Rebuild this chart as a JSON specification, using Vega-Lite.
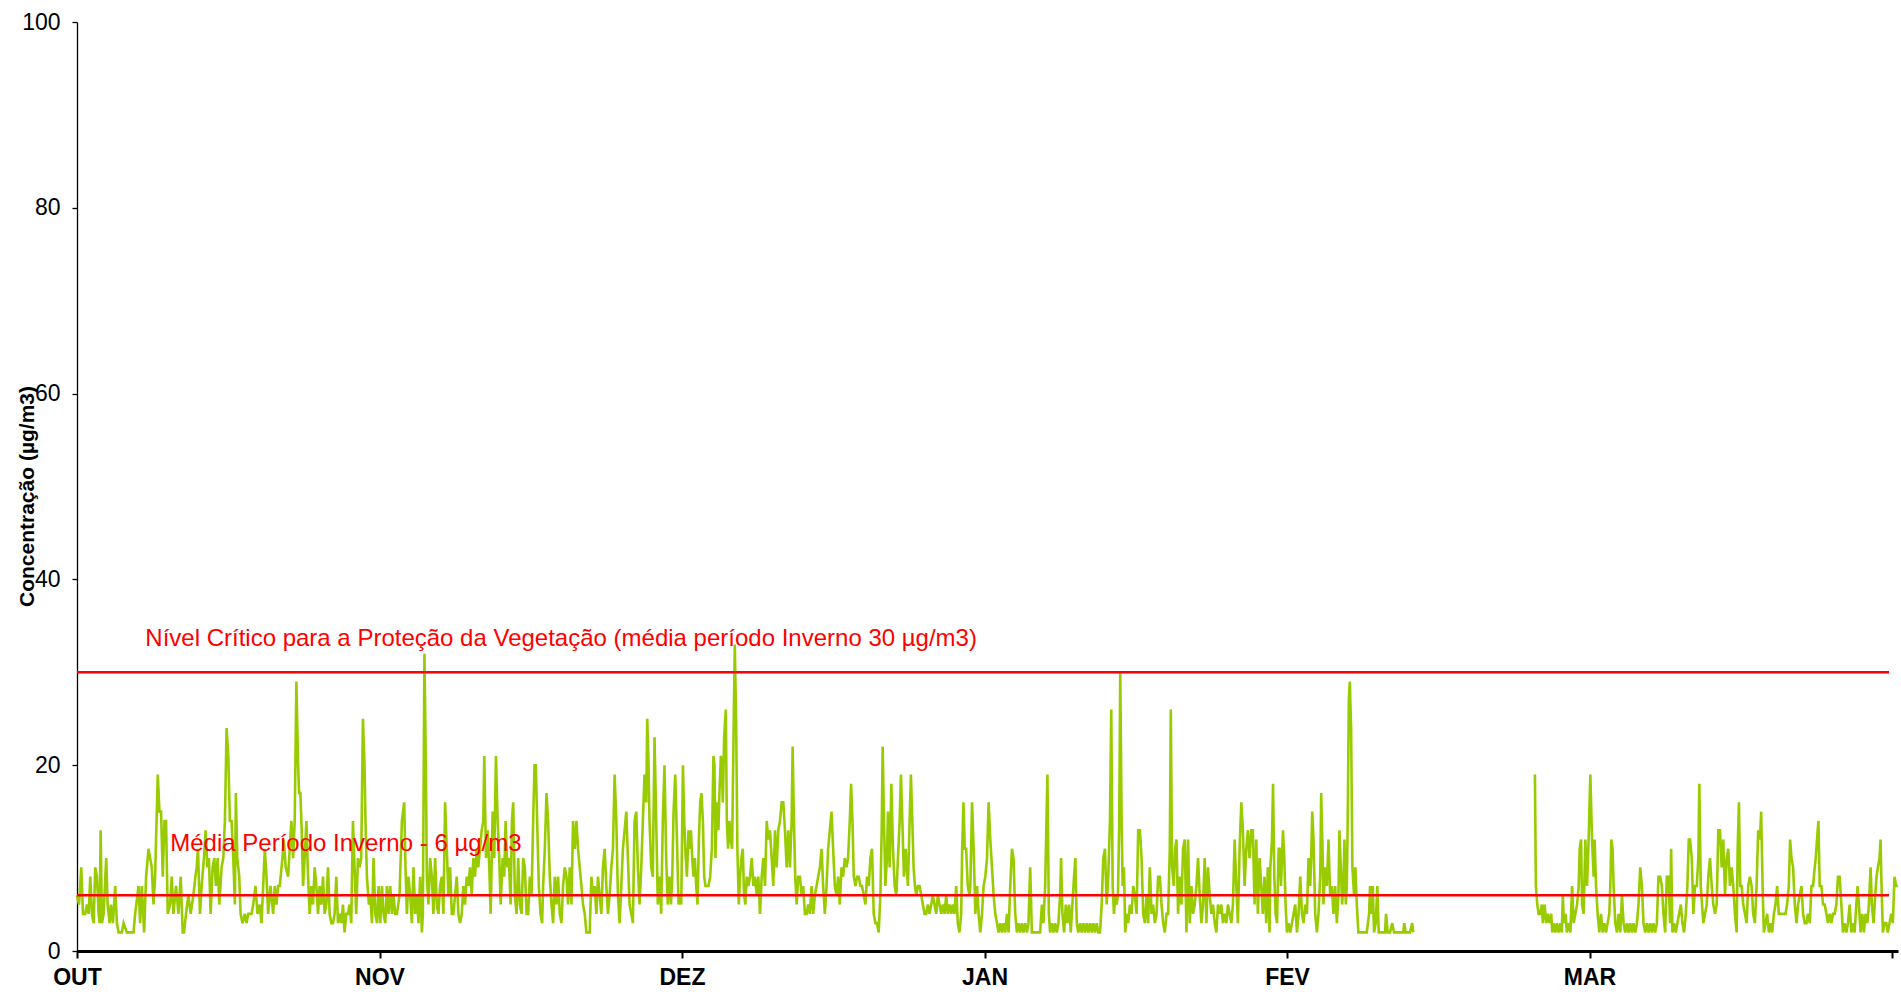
{
"$schema": "https://vega.github.io/schema/vega-lite/v6.json",
"width": 1821, "height": 929,
"autosize": {"type": "none"},
"padding": {"left": 77, "top": 22, "right": 3, "bottom": 41},
"background": "white",
"config": {"view": {"stroke": null}, "axis": {"grid": false}},
"datasets": {
"series": [
{"d":0,"v":6},{"d":0.2,"v":5},{"d":0.43,"v":9},{"d":0.6,"v":4},{"d":0.83,"v":4},{"d":1,"v":5},{"d":1.17,"v":4},{"d":1.33,"v":8},{"d":1.5,"v":4},{"d":1.67,"v":3},{"d":1.83,"v":9},{"d":2,"v":8},{"d":2.17,"v":4},{"d":2.27,"v":3},{"d":2.37,"v":13},{"d":2.5,"v":3},{"d":2.67,"v":4},{"d":2.93,"v":10},{"d":3.07,"v":5},{"d":3.27,"v":3},{"d":3.4,"v":5},{"d":3.6,"v":3},{"d":3.83,"v":7},{"d":4,"v":3},{"d":4.17,"v":2},{"d":4.5,"v":2},{"d":4.67,"v":3},{"d":5,"v":2},{"d":5.33,"v":2},{"d":5.67,"v":2},{"d":5.83,"v":4},{"d":6.17,"v":7},{"d":6.33,"v":3},{"d":6.5,"v":7},{"d":6.73,"v":2},{"d":6.93,"v":8},{"d":7.17,"v":11},{"d":7.33,"v":10},{"d":7.5,"v":9},{"d":7.67,"v":5},{"d":7.83,"v":8},{"d":8.1,"v":19},{"d":8.27,"v":15},{"d":8.43,"v":15},{"d":8.6,"v":8},{"d":8.77,"v":14},{"d":8.93,"v":14},{"d":9.1,"v":4},{"d":9.33,"v":5},{"d":9.5,"v":8},{"d":9.67,"v":4},{"d":9.93,"v":7},{"d":10.17,"v":4},{"d":10.4,"v":8},{"d":10.6,"v":2},{"d":10.73,"v":2},{"d":10.93,"v":4},{"d":11.17,"v":6},{"d":11.4,"v":4},{"d":11.67,"v":6},{"d":11.87,"v":8},{"d":12,"v":9},{"d":12.13,"v":11},{"d":12.33,"v":4},{"d":12.5,"v":7},{"d":12.73,"v":10},{"d":12.9,"v":13},{"d":13.07,"v":9},{"d":13.23,"v":10},{"d":13.4,"v":4},{"d":13.6,"v":9},{"d":13.77,"v":10},{"d":13.93,"v":7},{"d":14.1,"v":10},{"d":14.27,"v":5},{"d":14.5,"v":9},{"d":14.67,"v":10},{"d":14.83,"v":14},{"d":15,"v":24},{"d":15.17,"v":21},{"d":15.33,"v":14},{"d":15.5,"v":14},{"d":15.67,"v":10},{"d":15.83,"v":5},{"d":15.93,"v":17},{"d":16.07,"v":10},{"d":16.27,"v":8},{"d":16.4,"v":4},{"d":16.6,"v":3},{"d":16.83,"v":4},{"d":17,"v":3},{"d":17.17,"v":4},{"d":17.5,"v":4},{"d":17.67,"v":5},{"d":17.9,"v":7},{"d":18.1,"v":4},{"d":18.33,"v":5},{"d":18.5,"v":3},{"d":18.67,"v":7},{"d":18.83,"v":11},{"d":19,"v":8},{"d":19.17,"v":4},{"d":19.4,"v":7},{"d":19.67,"v":4},{"d":19.83,"v":7},{"d":20,"v":5},{"d":20.17,"v":7},{"d":20.33,"v":7},{"d":20.6,"v":10},{"d":20.73,"v":12},{"d":20.93,"v":9},{"d":21.17,"v":8},{"d":21.33,"v":11},{"d":21.5,"v":14},{"d":21.67,"v":10},{"d":21.83,"v":14},{"d":22,"v":29},{"d":22.17,"v":20},{"d":22.27,"v":17},{"d":22.4,"v":17},{"d":22.53,"v":13},{"d":22.67,"v":7},{"d":22.83,"v":10},{"d":23,"v":14},{"d":23.17,"v":8},{"d":23.33,"v":4},{"d":23.5,"v":7},{"d":23.67,"v":5},{"d":23.83,"v":9},{"d":24,"v":7},{"d":24.17,"v":4},{"d":24.33,"v":7},{"d":24.5,"v":5},{"d":24.67,"v":8},{"d":24.83,"v":4},{"d":25,"v":5},{"d":25.17,"v":9},{"d":25.33,"v":4},{"d":25.5,"v":3},{"d":25.67,"v":3},{"d":25.83,"v":4},{"d":26,"v":8},{"d":26.17,"v":3},{"d":26.33,"v":4},{"d":26.5,"v":3},{"d":26.67,"v":5},{"d":26.83,"v":2},{"d":27,"v":4},{"d":27.17,"v":4},{"d":27.33,"v":5},{"d":27.5,"v":3},{"d":27.67,"v":14},{"d":27.83,"v":9},{"d":28,"v":4},{"d":28.17,"v":10},{"d":28.33,"v":9},{"d":28.5,"v":10},{"d":28.67,"v":25},{"d":28.83,"v":20},{"d":28.93,"v":14},{"d":29.07,"v":8},{"d":29.27,"v":5},
{"d":29.41,"v":6},{"d":29.58,"v":3},{"d":29.74,"v":10},{"d":29.91,"v":4},{"d":30.08,"v":3},{"d":30.24,"v":7},{"d":30.41,"v":3},{"d":30.58,"v":7},{"d":30.74,"v":4},{"d":30.91,"v":3},{"d":31.08,"v":7},{"d":31.24,"v":4},{"d":31.41,"v":7},{"d":31.58,"v":4},{"d":31.74,"v":6},{"d":31.91,"v":4},{"d":32.08,"v":4},{"d":32.34,"v":6},{"d":32.58,"v":14},{"d":32.81,"v":16},{"d":32.94,"v":9},{"d":33.08,"v":4},{"d":33.24,"v":8},{"d":33.41,"v":6},{"d":33.58,"v":3},{"d":33.74,"v":9},{"d":33.91,"v":4},{"d":34.08,"v":6},{"d":34.24,"v":3},{"d":34.41,"v":8},{"d":34.58,"v":2},{"d":34.68,"v":4},{"d":34.84,"v":32},{"d":34.98,"v":20},{"d":35.08,"v":8},{"d":35.24,"v":5},{"d":35.41,"v":10},{"d":35.58,"v":8},{"d":35.74,"v":4},{"d":35.91,"v":10},{"d":36.08,"v":5},{"d":36.24,"v":4},{"d":36.41,"v":7},{"d":36.58,"v":8},{"d":36.74,"v":4},{"d":36.91,"v":16},{"d":37.08,"v":11},{"d":37.24,"v":6},{"d":37.41,"v":9},{"d":37.58,"v":4},{"d":37.74,"v":4},{"d":37.91,"v":6},{"d":38.08,"v":8},{"d":38.24,"v":4},{"d":38.41,"v":3},{"d":38.58,"v":4},{"d":38.74,"v":7},{"d":38.91,"v":5},{"d":39.08,"v":8},{"d":39.24,"v":7},{"d":39.41,"v":9},{"d":39.58,"v":6},{"d":39.74,"v":10},{"d":39.91,"v":8},{"d":40.08,"v":11},{"d":40.24,"v":9},{"d":40.41,"v":11},{"d":40.58,"v":13},{"d":40.74,"v":14},{"d":40.84,"v":21},{"d":41.01,"v":10},{"d":41.18,"v":13},{"d":41.34,"v":9},{"d":41.48,"v":4},{"d":41.68,"v":15},{"d":41.84,"v":10},{"d":42.01,"v":21},{"d":42.18,"v":14},{"d":42.34,"v":10},{"d":42.48,"v":5},{"d":42.68,"v":10},{"d":42.84,"v":8},{"d":42.98,"v":14},{"d":43.14,"v":9},{"d":43.31,"v":10},{"d":43.48,"v":5},{"d":43.61,"v":14},{"d":43.74,"v":16},{"d":43.91,"v":6},{"d":44.08,"v":4},{"d":44.24,"v":10},{"d":44.41,"v":5},{"d":44.58,"v":4},{"d":44.74,"v":10},{"d":44.91,"v":9},{"d":45.08,"v":4},{"d":45.24,"v":4},{"d":45.41,"v":8},{"d":45.58,"v":6},{"d":45.74,"v":14},{"d":45.88,"v":20},{"d":46.01,"v":20},{"d":46.14,"v":14},{"d":46.31,"v":7},{"d":46.48,"v":4},{"d":46.64,"v":3},{"d":46.74,"v":7},{"d":46.91,"v":11},{"d":47.08,"v":17},{"d":47.24,"v":14},{"d":47.41,"v":8},{"d":47.58,"v":5},{"d":47.74,"v":3},{"d":47.91,"v":8},{"d":48.08,"v":5},{"d":48.24,"v":8},{"d":48.41,"v":4},{"d":48.58,"v":3},{"d":48.74,"v":7},{"d":48.91,"v":9},{"d":49.08,"v":8},{"d":49.24,"v":5},{"d":49.41,"v":9},{"d":49.58,"v":5},{"d":49.74,"v":14},{"d":49.91,"v":11},{"d":50.08,"v":14},{"d":50.24,"v":11},{"d":50.41,"v":9},{"d":50.58,"v":7},{"d":50.74,"v":5},{"d":50.91,"v":4},{"d":51.08,"v":2},{"d":51.24,"v":2},{"d":51.41,"v":2},{"d":51.58,"v":8},{"d":51.74,"v":6},{"d":51.91,"v":7},{"d":52.08,"v":4},{"d":52.24,"v":8},{"d":52.41,"v":6},{"d":52.58,"v":4},{"d":52.74,"v":9},{"d":52.91,"v":11},{"d":53.08,"v":7},{"d":53.24,"v":4},{"d":53.41,"v":6},{"d":53.58,"v":9},{"d":53.74,"v":11},{"d":53.91,"v":19},{"d":54.08,"v":14},{"d":54.24,"v":6},{"d":54.41,"v":3},{"d":54.58,"v":7},{"d":54.74,"v":11},{"d":54.91,"v":13},{"d":55.08,"v":15},{"d":55.24,"v":10},{"d":55.41,"v":5},{"d":55.58,"v":4},{"d":55.74,"v":3},{"d":55.91,"v":14},{"d":56.08,"v":15},{"d":56.24,"v":9},{"d":56.41,"v":5},{"d":56.58,"v":9},{"d":56.74,"v":14},{"d":56.91,"v":19},{"d":57.08,"v":16},{"d":57.18,"v":25},{"d":57.31,"v":20},{"d":57.41,"v":14},{"d":57.58,"v":9},{"d":57.74,"v":8},{"d":57.91,"v":23},{"d":58.08,"v":14},{"d":58.24,"v":5},{"d":58.41,"v":8},{"d":58.58,"v":4},{"d":58.74,"v":14},{"d":58.91,"v":20},{"d":59.08,"v":10},{"d":59.24,"v":5},{"d":59.41,"v":8},
{"d":59.56,"v":5},{"d":59.69,"v":8},{"d":59.82,"v":15},{"d":59.99,"v":19},{"d":60.16,"v":12},{"d":60.32,"v":5},{"d":60.49,"v":6},{"d":60.59,"v":5},{"d":60.76,"v":20},{"d":60.89,"v":14},{"d":60.99,"v":11},{"d":61.16,"v":8},{"d":61.32,"v":13},{"d":61.42,"v":11},{"d":61.56,"v":13},{"d":61.69,"v":10},{"d":61.82,"v":8},{"d":61.96,"v":10},{"d":62.09,"v":7},{"d":62.22,"v":5},{"d":62.36,"v":12},{"d":62.49,"v":16},{"d":62.62,"v":17},{"d":62.76,"v":14},{"d":62.89,"v":8},{"d":63.02,"v":7},{"d":63.16,"v":7},{"d":63.32,"v":7},{"d":63.49,"v":8},{"d":63.66,"v":11},{"d":63.82,"v":21},{"d":63.92,"v":20},{"d":64.02,"v":10},{"d":64.16,"v":16},{"d":64.32,"v":13},{"d":64.42,"v":17},{"d":64.56,"v":21},{"d":64.66,"v":20},{"d":64.76,"v":16},{"d":64.89,"v":23},{"d":65.06,"v":26},{"d":65.16,"v":14},{"d":65.29,"v":11},{"d":65.42,"v":14},{"d":65.56,"v":12},{"d":65.69,"v":11},{"d":65.82,"v":22},{"d":65.96,"v":33},{"d":66.09,"v":25},{"d":66.22,"v":11},{"d":66.36,"v":5},{"d":66.49,"v":8},{"d":66.62,"v":10},{"d":66.76,"v":11},{"d":66.89,"v":6},{"d":67.02,"v":5},{"d":67.16,"v":8},{"d":67.32,"v":7},{"d":67.49,"v":8},{"d":67.66,"v":10},{"d":67.82,"v":7},{"d":67.99,"v":8},{"d":68.16,"v":6},{"d":68.32,"v":8},{"d":68.49,"v":4},{"d":68.66,"v":8},{"d":68.82,"v":10},{"d":68.99,"v":7},{"d":69.16,"v":14},{"d":69.32,"v":12},{"d":69.49,"v":13},{"d":69.66,"v":10},{"d":69.82,"v":7},{"d":69.99,"v":13},{"d":70.16,"v":9},{"d":70.32,"v":13},{"d":70.49,"v":14},{"d":70.66,"v":16},{"d":70.82,"v":16},{"d":70.99,"v":13},{"d":71.16,"v":9},{"d":71.32,"v":13},{"d":71.49,"v":9},{"d":71.66,"v":14},{"d":71.76,"v":22},{"d":71.89,"v":14},{"d":72.02,"v":8},{"d":72.16,"v":5},{"d":72.32,"v":8},{"d":72.49,"v":8},{"d":72.66,"v":6},{"d":72.82,"v":7},{"d":72.99,"v":4},{"d":73.16,"v":4},{"d":73.32,"v":5},{"d":73.49,"v":4},{"d":73.66,"v":7},{"d":73.82,"v":4},{"d":73.99,"v":6},{"d":74.16,"v":7},{"d":74.32,"v":8},{"d":74.49,"v":9},{"d":74.66,"v":11},{"d":74.82,"v":7},{"d":74.99,"v":4},{"d":75.16,"v":7},{"d":75.32,"v":11},{"d":75.49,"v":13},{"d":75.66,"v":15},{"d":75.82,"v":11},{"d":75.99,"v":7},{"d":76.16,"v":6},{"d":76.32,"v":8},{"d":76.49,"v":5},{"d":76.66,"v":9},{"d":76.82,"v":8},{"d":76.99,"v":10},{"d":77.16,"v":9},{"d":77.32,"v":10},{"d":77.49,"v":14},{"d":77.62,"v":18},{"d":77.76,"v":14},{"d":77.89,"v":8},{"d":78.06,"v":7},{"d":78.22,"v":8},{"d":78.39,"v":8},{"d":78.56,"v":7},{"d":78.72,"v":7},{"d":78.89,"v":6},{"d":79.06,"v":5},{"d":79.22,"v":8},{"d":79.39,"v":7},{"d":79.56,"v":10},{"d":79.72,"v":11},{"d":79.89,"v":4},{"d":80.06,"v":3},{"d":80.22,"v":3},{"d":80.39,"v":2},{"d":80.56,"v":6},{"d":80.69,"v":13},{"d":80.79,"v":22},{"d":80.92,"v":14},{"d":81.06,"v":7},{"d":81.22,"v":10},{"d":81.32,"v":15},{"d":81.49,"v":9},{"d":81.66,"v":18},{"d":81.82,"v":11},{"d":81.99,"v":7},{"d":82.16,"v":6},{"d":82.32,"v":10},{"d":82.49,"v":14},{"d":82.62,"v":19},{"d":82.76,"v":14},{"d":82.92,"v":8},{"d":83.09,"v":11},{"d":83.32,"v":7},{"d":83.49,"v":14},{"d":83.62,"v":19},{"d":83.76,"v":14},{"d":83.89,"v":9},{"d":84.02,"v":7},{"d":84.16,"v":6},{"d":84.32,"v":7},{"d":84.49,"v":7},{"d":84.66,"v":6},{"d":84.82,"v":5},{"d":84.99,"v":4},{"d":85.16,"v":4},{"d":85.32,"v":5},{"d":85.49,"v":4},{"d":85.66,"v":5},{"d":85.82,"v":6},{"d":85.99,"v":5},{"d":86.16,"v":4},{"d":86.32,"v":6},{"d":86.49,"v":5},{"d":86.66,"v":4},{"d":86.82,"v":5},{"d":86.99,"v":4},{"d":87.16,"v":6},{"d":87.32,"v":4},{"d":87.49,"v":5},{"d":87.66,"v":4},{"d":87.82,"v":5},{"d":87.99,"v":4},{"d":88.16,"v":7},{"d":88.32,"v":3},{"d":88.49,"v":2},{"d":88.66,"v":4},{"d":88.76,"v":11},{"d":88.89,"v":16},{"d":89.02,"v":11},{"d":89.16,"v":11},{"d":89.32,"v":7},{"d":89.49,"v":6},
{"d":89.58,"v":7},{"d":89.75,"v":16},{"d":89.91,"v":11},{"d":90.08,"v":4},{"d":90.25,"v":7},{"d":90.41,"v":4},{"d":90.58,"v":2},{"d":90.75,"v":4},{"d":90.91,"v":7},{"d":91.08,"v":8},{"d":91.25,"v":10},{"d":91.41,"v":16},{"d":91.58,"v":12},{"d":91.75,"v":9},{"d":91.91,"v":6},{"d":92.08,"v":4},{"d":92.25,"v":3},{"d":92.41,"v":2},{"d":92.58,"v":3},{"d":92.75,"v":2},{"d":92.91,"v":3},{"d":93.08,"v":2},{"d":93.25,"v":4},{"d":93.41,"v":2},{"d":93.58,"v":7},{"d":93.75,"v":11},{"d":93.91,"v":10},{"d":94.08,"v":4},{"d":94.25,"v":2},{"d":94.41,"v":3},{"d":94.58,"v":2},{"d":94.75,"v":3},{"d":94.91,"v":2},{"d":95.08,"v":3},{"d":95.25,"v":2},{"d":95.41,"v":3},{"d":95.58,"v":9},{"d":95.75,"v":2},{"d":95.91,"v":2},{"d":96.25,"v":2},{"d":96.58,"v":2},{"d":96.75,"v":5},{"d":96.91,"v":3},{"d":97.08,"v":7},{"d":97.31,"v":19},{"d":97.45,"v":4},{"d":97.58,"v":2},{"d":97.75,"v":3},{"d":97.91,"v":2},{"d":98.08,"v":3},{"d":98.25,"v":2},{"d":98.41,"v":3},{"d":98.58,"v":6},{"d":98.68,"v":10},{"d":98.81,"v":4},{"d":98.98,"v":2},{"d":99.15,"v":5},{"d":99.31,"v":3},{"d":99.48,"v":5},{"d":99.65,"v":2},{"d":99.81,"v":5},{"d":99.98,"v":8},{"d":100.11,"v":10},{"d":100.25,"v":3},{"d":100.41,"v":2},{"d":100.58,"v":3},{"d":100.75,"v":2},{"d":100.91,"v":3},{"d":101.08,"v":2},{"d":101.25,"v":3},{"d":101.41,"v":2},{"d":101.58,"v":3},{"d":101.75,"v":2},{"d":101.91,"v":3},{"d":102.08,"v":2},{"d":102.25,"v":3},{"d":102.41,"v":2},{"d":102.58,"v":2},{"d":102.75,"v":5},{"d":102.91,"v":10},{"d":103.08,"v":11},{"d":103.25,"v":5},{"d":103.41,"v":8},{"d":103.58,"v":14},{"d":103.71,"v":26},{"d":103.85,"v":7},{"d":103.98,"v":4},{"d":104.11,"v":6},{"d":104.25,"v":5},{"d":104.38,"v":6},{"d":104.51,"v":14},{"d":104.61,"v":30},{"d":104.75,"v":14},{"d":104.85,"v":7},{"d":104.98,"v":9},{"d":105.11,"v":2},{"d":105.25,"v":4},{"d":105.41,"v":3},{"d":105.58,"v":5},{"d":105.75,"v":4},{"d":105.91,"v":7},{"d":106.08,"v":6},{"d":106.25,"v":4},{"d":106.41,"v":13},{"d":106.58,"v":13},{"d":106.75,"v":10},{"d":106.91,"v":4},{"d":107.08,"v":3},{"d":107.25,"v":6},{"d":107.41,"v":3},{"d":107.58,"v":9},{"d":107.75,"v":4},{"d":107.91,"v":5},{"d":108.08,"v":3},{"d":108.25,"v":4},{"d":108.41,"v":8},{"d":108.58,"v":8},{"d":108.75,"v":5},{"d":108.91,"v":3},{"d":109.08,"v":2},{"d":109.25,"v":4},{"d":109.41,"v":4},{"d":109.58,"v":11},{"d":109.68,"v":26},{"d":109.81,"v":9},{"d":109.98,"v":7},{"d":110.11,"v":11},{"d":110.25,"v":12},{"d":110.41,"v":4},{"d":110.58,"v":8},{"d":110.75,"v":5},{"d":110.91,"v":11},{"d":111.08,"v":12},{"d":111.25,"v":2},{"d":111.41,"v":12},{"d":111.58,"v":3},{"d":111.75,"v":7},{"d":111.91,"v":4},{"d":112.08,"v":5},{"d":112.25,"v":7},{"d":112.41,"v":10},{"d":112.58,"v":6},{"d":112.75,"v":3},{"d":112.91,"v":5},{"d":113.08,"v":10},{"d":113.25,"v":3},{"d":113.41,"v":9},{"d":113.58,"v":6},{"d":113.75,"v":4},{"d":113.91,"v":5},{"d":114.08,"v":3},{"d":114.25,"v":2},{"d":114.41,"v":5},{"d":114.58,"v":4},{"d":114.75,"v":5},{"d":114.91,"v":3},{"d":115.08,"v":4},{"d":115.25,"v":3},{"d":115.41,"v":5},{"d":115.58,"v":4},{"d":115.75,"v":3},{"d":115.91,"v":5},{"d":116.08,"v":12},{"d":116.25,"v":7},{"d":116.41,"v":3},{"d":116.58,"v":11},{"d":116.75,"v":16},{"d":116.91,"v":13},{"d":117.08,"v":7},{"d":117.25,"v":11},{"d":117.41,"v":13},{"d":117.58,"v":10},{"d":117.75,"v":13},{"d":117.91,"v":13},{"d":118.08,"v":5},{"d":118.25,"v":12},{"d":118.41,"v":4},{"d":118.58,"v":10},{"d":118.75,"v":7},{"d":118.91,"v":4},{"d":119.08,"v":8},{"d":119.25,"v":3},{"d":119.41,"v":9},{"d":119.58,"v":2},
{"d":119.66,"v":9},{"d":119.83,"v":12},{"d":119.93,"v":18},{"d":120.06,"v":8},{"d":120.19,"v":4},{"d":120.33,"v":3},{"d":120.49,"v":11},{"d":120.59,"v":11},{"d":120.73,"v":7},{"d":120.83,"v":10},{"d":120.93,"v":13},{"d":121.06,"v":10},{"d":121.19,"v":5},{"d":121.33,"v":2},{"d":121.49,"v":3},{"d":121.66,"v":2},{"d":121.83,"v":3},{"d":121.99,"v":4},{"d":122.16,"v":5},{"d":122.33,"v":2},{"d":122.49,"v":4},{"d":122.66,"v":8},{"d":122.83,"v":4},{"d":122.99,"v":3},{"d":123.16,"v":5},{"d":123.33,"v":4},{"d":123.49,"v":10},{"d":123.66,"v":7},{"d":123.76,"v":10},{"d":123.86,"v":15},{"d":123.99,"v":12},{"d":124.16,"v":4},{"d":124.33,"v":2},{"d":124.49,"v":4},{"d":124.66,"v":8},{"d":124.76,"v":17},{"d":124.89,"v":11},{"d":124.99,"v":5},{"d":125.16,"v":9},{"d":125.33,"v":7},{"d":125.49,"v":12},{"d":125.66,"v":6},{"d":125.83,"v":7},{"d":125.99,"v":4},{"d":126.16,"v":7},{"d":126.33,"v":3},{"d":126.49,"v":6},{"d":126.59,"v":13},{"d":126.73,"v":9},{"d":126.86,"v":5},{"d":126.99,"v":7},{"d":127.09,"v":12},{"d":127.23,"v":5},{"d":127.33,"v":7},{"d":127.43,"v":15},{"d":127.53,"v":27},{"d":127.63,"v":29},{"d":127.76,"v":24},{"d":127.89,"v":9},{"d":128.06,"v":6},{"d":128.19,"v":9},{"d":128.33,"v":5},{"d":128.49,"v":2},{"d":128.66,"v":2},{"d":128.99,"v":2},{"d":129.33,"v":2},{"d":129.56,"v":4},{"d":129.66,"v":7},{"d":129.83,"v":4},{"d":129.93,"v":7},{"d":130.06,"v":2},{"d":130.23,"v":3},{"d":130.39,"v":7},{"d":130.53,"v":2},{"d":130.83,"v":2},{"d":131.16,"v":2},{"d":131.26,"v":4},{"d":131.43,"v":2},{"d":131.66,"v":2},{"d":131.89,"v":3},{"d":132.06,"v":2},{"d":132.33,"v":2},{"d":132.66,"v":2},{"d":132.99,"v":2},{"d":133.09,"v":3},{"d":133.23,"v":2},{"d":133.66,"v":2},{"d":133.89,"v":3},{"d":133.99,"v":2},
{"d":140,"v":null},
{"d":146.19,"v":19},{"d":146.29,"v":7},{"d":146.43,"v":5},{"d":146.56,"v":4},{"d":146.73,"v":4},{"d":146.89,"v":5},{"d":146.99,"v":3},{"d":147.16,"v":5},{"d":147.33,"v":3},{"d":147.49,"v":4},{"d":147.66,"v":3},{"d":147.83,"v":4},{"d":147.93,"v":2},{"d":148.06,"v":3},{"d":148.23,"v":2},{"d":148.39,"v":3},{"d":148.56,"v":2},{"d":148.73,"v":3},{"d":148.89,"v":2},{"d":148.99,"v":6},{"d":149.09,"v":3},{"d":149.26,"v":4},{"d":149.39,"v":2},{"d":149.59,"v":3},
{"d":149.75,"v":2},{"d":149.92,"v":7},{"d":150.08,"v":3},{"d":150.25,"v":4},{"d":150.42,"v":5},{"d":150.58,"v":7},{"d":150.68,"v":11},{"d":150.82,"v":12},{"d":150.92,"v":5},{"d":151.08,"v":4},{"d":151.25,"v":12},{"d":151.42,"v":7},{"d":151.58,"v":12},{"d":151.75,"v":19},{"d":151.92,"v":12},{"d":152.08,"v":8},{"d":152.18,"v":12},{"d":152.32,"v":7},{"d":152.48,"v":4},{"d":152.65,"v":2},{"d":152.82,"v":4},{"d":152.98,"v":2},{"d":153.15,"v":3},{"d":153.32,"v":2},{"d":153.48,"v":3},{"d":153.65,"v":4},{"d":153.75,"v":7},{"d":153.85,"v":12},{"d":153.98,"v":11},{"d":154.08,"v":7},{"d":154.25,"v":3},{"d":154.42,"v":2},{"d":154.58,"v":4},{"d":154.75,"v":2},{"d":154.92,"v":6},{"d":155.08,"v":3},{"d":155.25,"v":2},{"d":155.42,"v":3},{"d":155.58,"v":2},{"d":155.75,"v":3},{"d":155.92,"v":2},{"d":156.08,"v":3},{"d":156.25,"v":2},{"d":156.42,"v":3},{"d":156.58,"v":5},{"d":156.75,"v":9},{"d":156.92,"v":7},{"d":157.08,"v":3},{"d":157.25,"v":2},{"d":157.42,"v":3},{"d":157.58,"v":2},{"d":157.75,"v":3},{"d":157.92,"v":2},{"d":158.08,"v":3},{"d":158.25,"v":2},{"d":158.42,"v":3},{"d":158.58,"v":8},{"d":158.75,"v":8},{"d":158.92,"v":7},{"d":159.08,"v":4},{"d":159.25,"v":2},{"d":159.42,"v":8},{"d":159.58,"v":8},{"d":159.75,"v":3},{"d":159.85,"v":11},{"d":159.98,"v":2},{"d":160.15,"v":3},{"d":160.32,"v":2},{"d":160.48,"v":3},{"d":160.65,"v":4},{"d":160.82,"v":5},{"d":160.98,"v":3},{"d":161.15,"v":2},{"d":161.32,"v":4},{"d":161.48,"v":7},{"d":161.62,"v":12},{"d":161.75,"v":12},{"d":161.92,"v":10},{"d":162.08,"v":4},{"d":162.25,"v":7},{"d":162.42,"v":7},{"d":162.58,"v":10},{"d":162.68,"v":18},{"d":162.82,"v":7},{"d":162.95,"v":5},{"d":163.08,"v":3},{"d":163.25,"v":4},{"d":163.42,"v":5},{"d":163.58,"v":8},{"d":163.75,"v":10},{"d":163.92,"v":7},{"d":164.08,"v":5},{"d":164.25,"v":4},{"d":164.42,"v":5},{"d":164.58,"v":13},{"d":164.75,"v":13},{"d":164.92,"v":9},{"d":165.08,"v":12},{"d":165.25,"v":6},{"d":165.42,"v":10},{"d":165.58,"v":11},{"d":165.75,"v":7},{"d":165.92,"v":9},{"d":166.08,"v":7},{"d":166.25,"v":4},{"d":166.42,"v":2},{"d":166.52,"v":11},{"d":166.65,"v":16},{"d":166.78,"v":7},{"d":166.92,"v":7},{"d":167.08,"v":5},{"d":167.25,"v":4},{"d":167.42,"v":3},{"d":167.58,"v":7},{"d":167.75,"v":8},{"d":167.92,"v":7},{"d":168.08,"v":4},{"d":168.25,"v":3},{"d":168.42,"v":7},{"d":168.58,"v":13},{"d":168.75,"v":12},{"d":168.88,"v":15},{"d":169.02,"v":7},{"d":169.15,"v":2},{"d":169.32,"v":3},{"d":169.48,"v":4},{"d":169.65,"v":2},{"d":169.82,"v":3},{"d":169.98,"v":2},{"d":170.15,"v":4},{"d":170.32,"v":5},{"d":170.48,"v":7},{"d":170.65,"v":4},{"d":170.82,"v":4},{"d":170.98,"v":4},{"d":171.15,"v":4},{"d":171.32,"v":4},{"d":171.48,"v":5},{"d":171.65,"v":7},{"d":171.78,"v":12},{"d":171.92,"v":10},{"d":172.08,"v":9},{"d":172.25,"v":5},{"d":172.42,"v":3},{"d":172.58,"v":5},{"d":172.75,"v":6},{"d":172.92,"v":7},{"d":173.08,"v":4},{"d":173.25,"v":3},{"d":173.42,"v":3},{"d":173.58,"v":4},{"d":173.75,"v":3},{"d":173.92,"v":7},{"d":174.08,"v":7},{"d":174.25,"v":9},{"d":174.35,"v":10},{"d":174.48,"v":12},{"d":174.62,"v":14},{"d":174.75,"v":7},{"d":174.92,"v":7},{"d":175.08,"v":5},{"d":175.25,"v":5},{"d":175.42,"v":4},{"d":175.58,"v":3},{"d":175.75,"v":4},{"d":175.92,"v":3},{"d":176.08,"v":4},{"d":176.25,"v":4},{"d":176.42,"v":5},{"d":176.58,"v":8},{"d":176.75,"v":8},{"d":176.92,"v":5},{"d":177.08,"v":2},{"d":177.25,"v":3},{"d":177.42,"v":2},{"d":177.58,"v":3},{"d":177.75,"v":5},{"d":177.92,"v":2},{"d":178.08,"v":3},{"d":178.25,"v":2},{"d":178.42,"v":5},{"d":178.55,"v":7},{"d":178.68,"v":5},{"d":178.85,"v":2},{"d":179.02,"v":4},{"d":179.18,"v":2},{"d":179.35,"v":4},{"d":179.52,"v":3},{"d":179.68,"v":5},{"d":179.85,"v":9},{"d":179.98,"v":5},{"d":180.15,"v":3},{"d":180.32,"v":6},{"d":180.45,"v":8},{"d":180.58,"v":9},{"d":180.75,"v":10},{"d":180.85,"v":12},{"d":180.95,"v":7},{"d":181.08,"v":2},{"d":181.25,"v":3},{"d":181.42,"v":3},{"d":181.58,"v":2},{"d":181.75,"v":3},{"d":181.92,"v":4},{"d":182.08,"v":3},{"d":182.25,"v":8},{"d":182.42,"v":7},{"d":182.58,"v":7}
],
"limits": [{"v":30,"start":0,"end":181.7},{"v":6,"start":0,"end":181.7}],
"notes": [
{"d":6.85,"v":32.8,"t":"Nível Crítico para a Proteção da Vegetação (média período Inverno 30 µg/m3)"},
{"d":9.35,"v":10.8,"t":"Média Período Inverno - 6 µg/m3"}
]
},
"layer": [
{
"data": {"name": "series"},
"mark": {"type": "line", "color": "#99CC00", "strokeWidth": 2.6, "invalid": "break-paths-show-domains"},
"encoding": {
"x": {"field": "d", "type": "quantitative", "title": null,
"scale": {"domain": [0, 182.6], "nice": false, "zero": false},
"axis": {"values": [0, 30.3333, 60.6667, 91, 121.3333, 151.6667, 182],
"labelExpr": "['OUT','NOV','DEZ','JAN','FEV','MAR',''][round(datum.value/30.3333)]",
"tickSize": 7, "tickWidth": 2, "tickColor": "black", "domainWidth": 3, "domainColor": "black",
"labelFont": "Liberation Sans", "labelFontSize": 23, "labelFontWeight": "bold", "labelColor": "black",
"labelPadding": 8, "labelAlign": "center", "labelBaseline": "top", "labelFlush": false, "labelOverlap": false, "grid": false}},
"y": {"field": "v", "type": "quantitative", "title": "Concentração (µg/m3)",
"scale": {"domain": [0, 100], "nice": false},
"axis": {"values": [0, 20, 40, 60, 80, 100], "tickSize": 5, "tickWidth": 1.3, "tickColor": "black",
"domainWidth": 1.3, "domainColor": "black",
"labelFont": "Liberation Sans", "labelFontSize": 23, "labelColor": "black", "labelPadding": 12,
"titleFont": "Liberation Sans", "titleFontSize": 21, "titleFontWeight": "bold", "titleColor": "black",
"titleX": -50, "titleY": 474, "titleAngle": 270, "titleAlign": "center", "titleBaseline": "middle", "grid": false}}
}
},
{
"data": {"name": "limits"},
"mark": {"type": "rule", "color": "#FF0000", "strokeWidth": 2.5},
"encoding": {
"x": {"field": "start", "type": "quantitative", "title": null},
"x2": {"field": "end"},
"y": {"field": "v", "type": "quantitative", "title": "Concentração (µg/m3)"}
}
},
{
"data": {"name": "notes"},
"mark": {"type": "text", "color": "#FF0000", "font": "Liberation Sans", "fontSize": 24, "align": "left", "baseline": "alphabetic"},
"encoding": {
"x": {"field": "d", "type": "quantitative", "title": null},
"y": {"field": "v", "type": "quantitative", "title": "Concentração (µg/m3)"},
"text": {"field": "t"}
}
}
]
}
